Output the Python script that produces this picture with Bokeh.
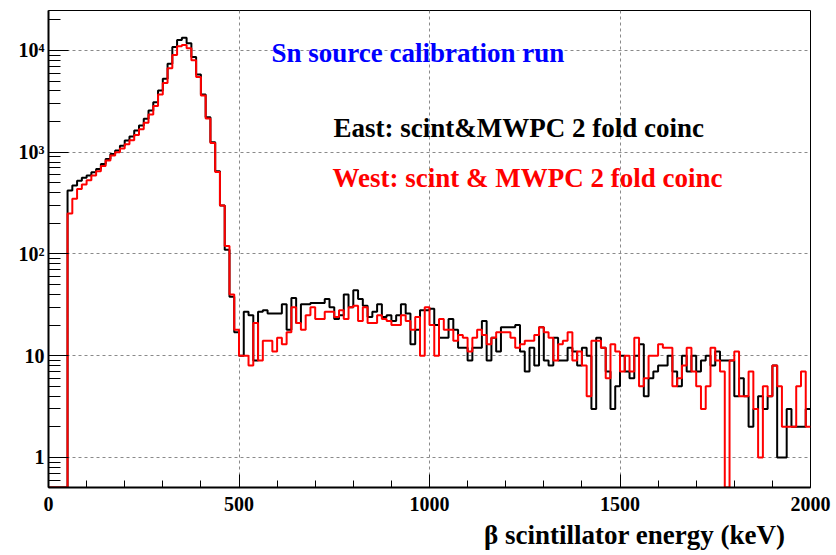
from bokeh.plotting import figure
from bokeh.models import Range1d, FixedTicker, Label, ColumnDataSource, Title
from bokeh.embed import file_html
from bokeh.resources import INLINE

# Histogram binning (keV)
bin_low = 0.0
bin_width = 12.5
n_bins = 160

east_counts = [
    0, 0, 0, 0, 420, 470, 525, 560, 590, 635,
    685, 765, 860, 960, 1040, 1160, 1300, 1430, 1630, 1830,
    2130, 2570, 3100, 4040, 5260, 7400, 10800, 12700, 13300, 11800,
    8600, 5800, 3700, 2200, 1250, 650, 300, 110, 38, 17,
    10, 27, 25, 9, 27, 28, 26, 26, 26, 32,
    18, 37, 21, 32, 32, 33, 33, 33, 36, 30,
    23, 25, 40, 30, 44, 36, 31, 24, 27, 32,
    24, 25, 22, 25, 32, 26, 13, 18, 28, 28,
    29, 20, 15, 15, 23, 18, 12, 12, 9, 12,
    12, 22, 9, 15, 11, 19, 19, 19, 20, 11,
    7, 12, 8, 19, 9, 8, 15, 9, 9, 12,
    11, 8, 12, 10, 3, 15, 12, 7, 3, 5,
    10, 7, 6, 10, 13, 4, 6, 7, 8, 8,
    10, 7, 5, 10, 7, 10, 7, 9, 10, 8,
    11, 9, 9, 9, 4, 6, 4, 2, 3, 4,
    3, 4, 8, 1, 1, 3, 2, 2, 2, 3,
]

west_counts = [
    0, 0, 0, 0, 250, 348, 436, 481, 530, 590,
    650, 730, 830, 930, 1000, 1090, 1200, 1310, 1480, 1680,
    1950, 2350, 2850, 3700, 4800, 6700, 9000, 11000, 11300, 10500,
    8000, 5500, 3600, 2150, 1230, 640, 300, 120, 40, 18,
    10, 10, 8, 21, 9, 14, 14, 11, 15, 13,
    17, 30, 21, 18, 25, 30, 23, 23, 27, 27,
    24, 28, 23, 30, 31, 22, 30, 21, 21, 25,
    23, 22, 20, 20, 25, 22, 18, 24, 10, 30,
    20, 10, 23, 18, 18, 14, 16, 15, 11, 15,
    18, 16, 13, 15, 17, 17, 17, 15, 12, 13,
    14, 14, 16, 19, 17, 15, 9, 13, 14, 17,
    9, 11, 8, 4, 14, 14, 12, 6, 13, 11,
    7, 10, 7, 15, 5, 6, 10, 10, 13, 12,
    12, 5, 6, 8, 12, 7, 5, 3, 5, 12,
    9, 7, 0, 9, 11, 4, 4, 7, 3, 1,
    5, 4, 8, 5, 2, 2, 2, 5, 7, 2,
]

x_major = [0, 500, 1000, 1500, 2000]
x_minor = [e for e in range(0, 2001, 100) if e % 500 != 0]
y_major = [1, 10, 100, 1000, 10000]
y_minor = [m * d for d in [0.1, 1, 10, 100, 1000, 10000] for m in range(2, 10)]
y_labels = {1: "1", 10: "10", 100: "10²", 1000: "10³", 10000: "10⁴"}

title_text = "Sn source calibration run"
east_text = "East: scint&MWPC 2 fold coinc"
west_text = "West: scint & MWPC 2 fold coinc"
x_title = "β scintillator energy (keV)"

y_min, y_max = 0.507, 24700
FONT = "Liberation Serif"

edges = [bin_low + i * bin_width for i in range(n_bins + 1)]


def step_source(counts):
    ys = [max(c, y_min) for c in counts]
    ys = ys + [ys[-1]]
    return ColumnDataSource(dict(x=edges, y=ys))


p = figure(
    width=836, height=555,
    x_range=Range1d(0, 2000), y_range=Range1d(y_min, y_max),
    y_axis_type="log",
    output_backend="svg", toolbar_location=None,
    min_border_left=48, min_border_right=26, min_border_top=10, min_border_bottom=68,
)
p.background_fill_color = "white"
p.border_fill_color = "white"
p.outline_line_color = "black"
p.outline_line_width = 1

# grids
for g in (p.xgrid, p.ygrid):
    g.grid_line_color = "#8a8a8a"
    g.grid_line_dash = "3 3"
    g.grid_line_width = 1

# x axis
p.xaxis.ticker = FixedTicker(ticks=x_major, minor_ticks=x_minor)
p.xaxis.major_tick_in = 13
p.xaxis.major_tick_out = 0
p.xaxis.minor_tick_in = 7
p.xaxis.minor_tick_out = 0
p.xaxis.axis_line_width = 2
p.xaxis.major_label_text_font = FONT
p.xaxis.major_label_text_font_style = "bold"
p.xaxis.major_label_text_font_size = "20px"
p.xaxis.major_label_text_color = "black"
p.xaxis.major_label_standoff = 9

# y axis
p.yaxis.ticker = FixedTicker(ticks=y_major, minor_ticks=y_minor)
p.yaxis.major_label_overrides = y_labels
p.yaxis.major_tick_in = 20
p.yaxis.major_tick_out = 0
p.yaxis.minor_tick_in = 12
p.yaxis.minor_tick_out = 0
p.yaxis.axis_line_width = 2
p.yaxis.major_label_text_font = FONT
p.yaxis.major_label_text_font_style = "bold"
p.yaxis.major_label_text_font_size = "20px"
p.yaxis.major_label_text_color = "black"
p.yaxis.major_label_standoff = 4

p.step(x="x", y="y", source=step_source(east_counts), mode="after",
       line_color="black", line_width=2)
p.step(x="x", y="y", source=step_source(west_counts), mode="after",
       line_color="#ff0000", line_width=2)

labels = [
    (title_text, "#0000ff", 223, 435),
    (east_text, "black", 285, 360),
    (west_text, "#ff0000", 284, 310),
]
for txt, col, sx, sy in labels:
    p.add_layout(Label(
        x=sx, y=sy, x_units="screen", y_units="screen", text=txt,
        text_color=col, text_font=FONT, text_font_style="bold",
        text_font_size="27px", text_align="left", text_baseline="middle",
    ))

p.add_layout(Title(
    text=x_title, align="right", offset=25, standoff=8,
    text_font=FONT, text_font_style="bold", text_font_size="27px",
    text_color="black",
), "below")

open("out.html", "w").write(file_html(p, INLINE))
